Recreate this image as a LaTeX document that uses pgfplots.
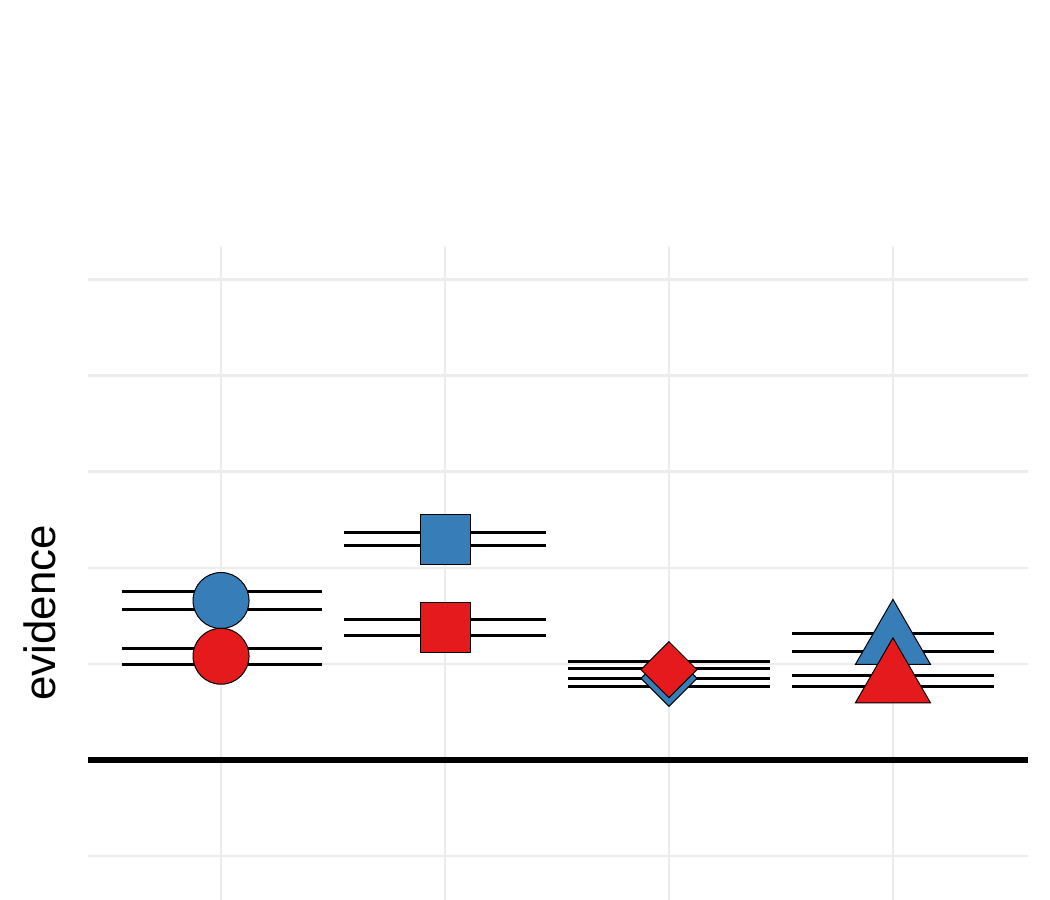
\documentclass[border=0pt]{standalone}
\usepackage{pgfplots}
\pgfplotsset{compat=1.18}
\usepackage{fontspec}
\setmainfont{Liberation Sans}
\definecolor{cblue}{HTML}{377EB8}
\definecolor{cred}{HTML}{E41A1C}
\begin{document}
\begin{tikzpicture}
\path[use as bounding box] (-44bp,-70bp) rectangle (481bp,380bp);
\begin{axis}[at={(0,0)},anchor=origin,scale only axis,width=470bp,height=367bp,
 xmin=0.406,xmax=4.603,ymin=-2.29,ymax=5.35,
 axis line style={draw=none},tick style={draw=none},
 xtick={1,2,3,4},xticklabels={ev,uv,ra,gda},ytick={-2,...,5},yticklabels={},
 grid=major,major grid style={gray!15,line width=1.3bp},
 xticklabel style={font=\fontsize{17}{20}\selectfont,text=black!70,yshift=-12bp},
 ylabel={evidence},ylabel style={font=\fontsize{22}{26}\selectfont,at={(axis description cs:-0.051,0.5)},anchor=center},
 unbounded coords=jump, clip=false]
\addplot[black,line width=3bp] coordinates {(0.406,0)(4.603,0)};
\addplot[black,line width=1.5bp] coordinates {
(0.56,1.75)(1.45,1.75)(nan,nan)(0.56,1.57)(1.45,1.57)(nan,nan)
(0.56,1.16)(1.45,1.16)(nan,nan)(0.56,0.99)(1.45,0.99)(nan,nan)
(1.55,2.37)(2.45,2.37)(nan,nan)(1.55,2.23)(2.45,2.23)(nan,nan)
(1.55,1.46)(2.45,1.46)(nan,nan)(1.55,1.30)(2.45,1.30)(nan,nan)
(2.55,1.03)(3.45,1.03)(nan,nan)(2.55,0.95)(3.45,0.95)(nan,nan)
(2.55,0.85)(3.45,0.85)(nan,nan)(2.55,0.77)(3.45,0.77)(nan,nan)
(3.55,1.32)(4.45,1.32)(nan,nan)(3.55,1.13)(4.45,1.13)(nan,nan)
(3.55,0.88)(4.45,0.88)(nan,nan)(3.55,0.76)(4.45,0.76)};
\addplot[only marks,mark=*,mark size=14bp,mark options={fill=cblue,draw=black,line width=0.5bp}] coordinates {(1,1.66)};
\addplot[only marks,mark=*,mark size=14bp,mark options={fill=cred,draw=black,line width=0.5bp}] coordinates {(1,1.08)};
\addplot[only marks,mark=square*,mark size=12.5bp,mark options={fill=cblue,draw=black,line width=0.5bp}] coordinates {(2,2.30)};
\addplot[only marks,mark=square*,mark size=12.5bp,mark options={fill=cred,draw=black,line width=0.5bp}] coordinates {(2,1.38)};
\addplot[only marks,mark=square*,mark size=9.9bp,mark options={fill=cblue,draw=black,line width=0.5bp,rotate=45}] coordinates {(3,0.85)};
\addplot[only marks,mark=square*,mark size=9.9bp,mark options={fill=cred,draw=black,line width=0.5bp,rotate=45}] coordinates {(3,0.94)};
\addplot[only marks,mark=triangle*,mark size=21.7bp,mark options={fill=cblue,draw=black,line width=0.5bp}] coordinates {(4,1.22)};
\addplot[only marks,mark=triangle*,mark size=21.7bp,mark options={fill=cred,draw=black,line width=0.5bp}] coordinates {(4,0.82)};
\end{axis}
\end{tikzpicture}
\end{document}
